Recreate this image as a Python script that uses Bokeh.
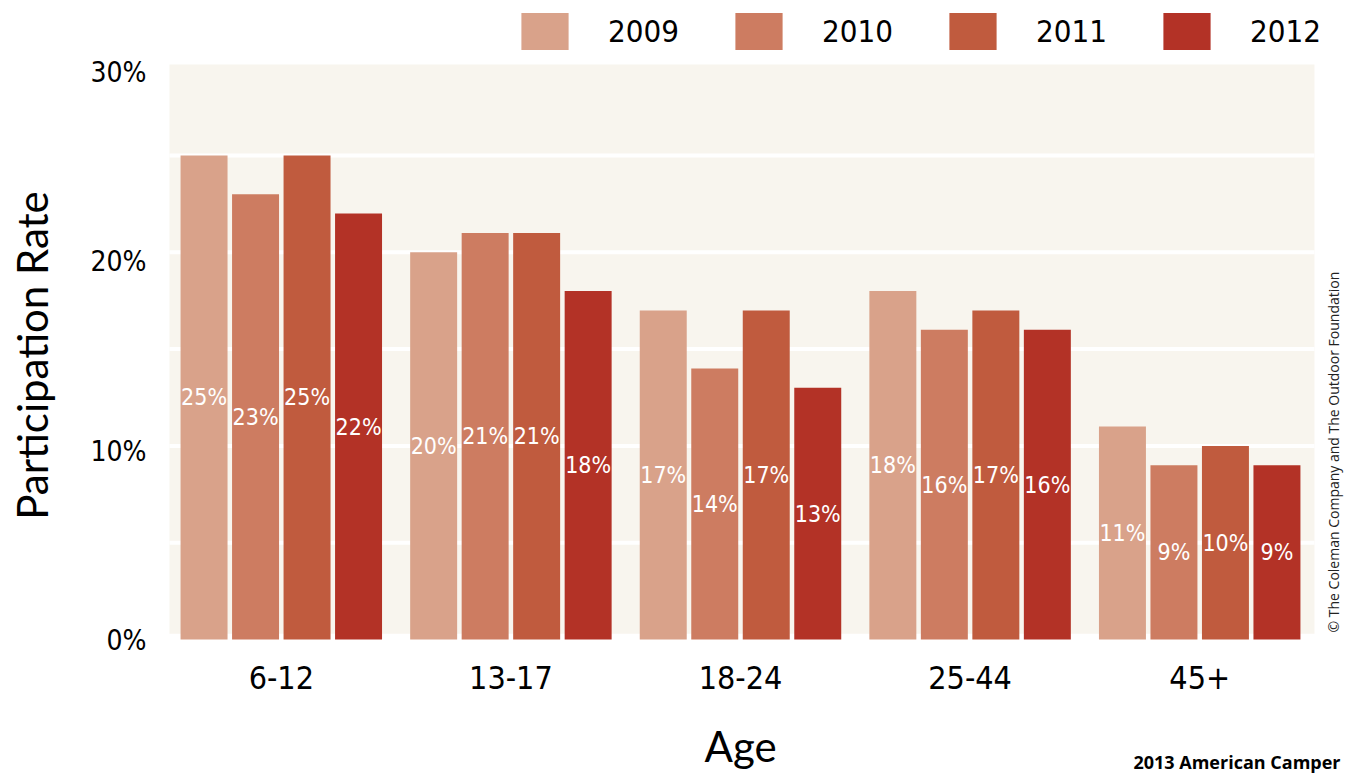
import math
from bokeh.plotting import figure
from bokeh.models import (Range1d, LinearAxis, FixedTicker, PrintfTickFormatter,
                          Legend, LegendItem, Label, BoxAnnotation, ColumnDataSource)
from bokeh.transform import dodge
from bokeh.core.properties import value
from bokeh.embed import file_html
from bokeh.resources import INLINE

# ---- data ----
ages = ["6-12", "13-17", "18-24", "25-44", "45+"]
years = ["2009", "2010", "2011", "2012"]
rate_2009 = [25, 20, 17, 18, 11]
rate_2010 = [23, 21, 14, 16, 9]
rate_2011 = [25, 21, 17, 17, 10]
rate_2012 = [22, 18, 13, 16, 9]
y_ticks = [0, 10, 20, 30]
grid_values = [5, 10, 15, 20, 25]

colors = ["#d9a28a", "#cd7c61", "#c05b3e", "#b33226"]
series = [rate_2009, rate_2010, rate_2011, rate_2012]

COND = "DejaVu Sans Condensed"
SANS = "Lato"

idx = list(range(len(ages)))

p = figure(x_range=Range1d(-1.2230, 4.6394), y_range=Range1d(-6.973, 33.006),
           width=1346, height=774,
           min_border_left=0, min_border_right=0, min_border_top=0, min_border_bottom=0,
           output_backend="svg", toolbar_location=None,
           x_axis_location=None, y_axis_location=None,
           background_fill_color="white", border_fill_color="white", outline_line_color=None)

p.xgrid.visible = False
p.ygrid.visible = False

# plot background panel
p.add_layout(BoxAnnotation(left=-0.487, right=4.5, bottom=0.3, top=29.7, fill_color="#f8f5ee",
                           fill_alpha=1, line_color=None, level="underlay"))
p.segment(x0=[-0.487] * len(grid_values), x1=[4.5] * len(grid_values),
          y0=grid_values, y1=grid_values, line_color="white", line_width=4)

# y axis (tick labels)
p.extra_y_ranges = {"lab": Range1d(-7.079, 33.809)}
yax = LinearAxis(y_range_name="lab", ticker=FixedTicker(ticks=y_ticks),
                 formatter=PrintfTickFormatter(format="%d%%"), fixed_location=-0.5)
yax.axis_line_color = None
yax.major_tick_line_color = None
yax.minor_tick_line_color = None
yax.major_label_text_font = COND
yax.major_label_text_font_size = "28px"
yax.major_label_text_color = "black"
yax.major_label_standoff = 14
p.add_layout(yax, "left")

# x axis (category labels)
xax = LinearAxis(ticker=FixedTicker(ticks=idx), fixed_location=0)
xax.major_label_overrides = {i: a for i, a in zip(idx, ages)}
xax.axis_line_color = None
xax.major_tick_line_color = None
xax.minor_tick_line_color = None
xax.major_label_text_font = COND
xax.major_label_text_font_size = "32px"
xax.major_label_text_color = "black"
xax.major_label_standoff = 20
p.add_layout(xax, "below")

step = 0.2243
width = 0.2046
items = []
for j, (yr, vals, col) in enumerate(zip(years, series, colors)):
    off = (j - 1.5) * step
    src = ColumnDataSource(dict(x=idx, v=vals, half=[v / 2 for v in vals],
                                lab=[f"{v}%" for v in vals]))
    r = p.vbar(x=dodge("x", off), top="v", width=width, source=src,
               fill_color=col, line_color=None)
    items.append(LegendItem(label=yr, renderers=[r]))
    p.text(x=dodge("x", off), y="half", text="lab", source=src,
           text_color="white", text_font=value(COND), text_font_size="23px",
           text_align="center", text_baseline="middle")

legend = Legend(items=items, orientation="horizontal", location=(515, 720),
                glyph_width=59, glyph_height=46, label_standoff=34, spacing=50,
                padding=0, margin=0, border_line_color=None, background_fill_alpha=0,
                label_text_font=COND, label_text_font_size="31px", label_text_color="black",
                label_height=46)
p.add_layout(legend, "center")

# axis titles
p.add_layout(Label(x=31, y=419, x_units="screen", y_units="screen", angle=math.pi / 2,
                   text="Participation Rate", text_font=SANS, text_font_size="42px",
                   text_color="black", text_align="center", text_baseline="middle"))
p.add_layout(Label(x=740, y=29, x_units="screen", y_units="screen",
                   text="Age", text_font=SANS, text_font_size="42px",
                   text_color="black", text_align="center", text_baseline="middle"))

p.add_layout(Label(x=1333, y=142, x_units="screen", y_units="screen", angle=math.pi / 2,
                   text="\u00a9 The Coleman Company and The Outdoor Foundation",
                   text_font="Open Sans", text_font_size="14px", text_color="#222222",
                   text_align="left", text_baseline="middle"))
p.add_layout(Label(x=1340, y=25, x_units="screen", y_units="screen",
                   text="2013 American Camper", text_font="Open Sans",
                   text_font_size="18px", text_font_style="bold", text_color="black",
                   text_align="right", text_baseline="top"))

open("out.html", "w").write(file_html(p, INLINE))
